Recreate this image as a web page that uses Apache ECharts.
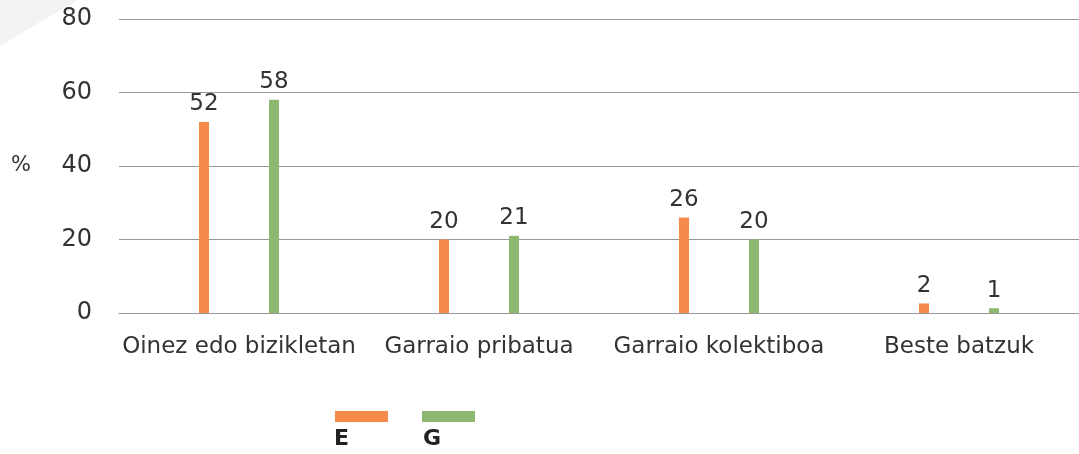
<!DOCTYPE html>
<html>
<head>
<meta charset="utf-8">
<script src="https://cdn.jsdelivr.net/npm/echarts@6/dist/echarts.min.js"></script>
<style>
  html, body { margin: 0; padding: 0; background: #fff; }
  #chart { width: 1079px; height: 454px; }
</style>
</head>
<body>
<div id="chart"></div>
<script>
// datos
var categories = ['Oinez edo bizikletan', 'Garraio pribatua', 'Garraio kolektiboa', 'Beste batzuk'];
var valuesE = [52, 20, 26, 2.6];
var valuesG = [58, 21, 20, 1.3];
var labelsE = [52, 20, 26, 2];
var labelsG = [58, 21, 20, 1];
var yTicks = [0, 20, 40, 60, 80];

var font = 'DejaVu Sans';
var chart = echarts.init(document.getElementById('chart'));

chart.setOption({
    animation: false,
    textStyle: { fontFamily: font },
    grid: { left: 119, right: -6, top: 19, bottom: 141 },
    legend: {
        left: 335,
        top: 411,
        padding: 0,
        itemWidth: 53,
        itemHeight: 11,
        itemGap: 34,
        icon: 'rect',
        formatter: function () { return ''; },
        data: ['E', 'G']
    },
    graphic: [
        { type: 'polygon', z: -1, shape: { points: [[0, 0], [78, 0], [40, 22], [0, 46]] }, style: { fill: '#f3f3f3' } },
        { type: 'text', left: 334, top: 428, style: { text: 'E', font: 'bold 22px ' + font, fill: '#222' } },
        { type: 'text', left: 423, top: 428, style: { text: 'G', font: 'bold 22px ' + font, fill: '#222' } }
    ],
    xAxis: {
        type: 'category',
        data: categories,
        axisLine: { lineStyle: { color: '#999' } },
        axisTick: { show: false },
        axisLabel: { color: '#333', fontSize: 23, margin: 23, interval: 0 }
    },
    yAxis: {
        type: 'value',
        min: 0,
        max: 80,
        interval: 20,
        name: '%',
        nameLocation: 'middle',
        nameRotate: 0,
        nameGap: 88,
        nameTextStyle: { color: '#333', fontSize: 21 },
        axisLine: { show: false },
        axisTick: { show: false },
        axisLabel: {
            color: '#333', fontSize: 24, margin: 27,
            formatter: function (v) { return yTicks.indexOf(v) >= 0 ? v : ''; }
        },
        splitLine: { lineStyle: { color: '#999' } }
    },
    series: [
        {
            name: 'E',
            type: 'bar',
            data: valuesE,
            barWidth: 10,
            barGap: '600%',
            itemStyle: { color: '#F58A4B' },
            label: {
                show: true, position: 'top', distance: 6, color: '#333', fontSize: 23,
                formatter: function (p) { return labelsE[p.dataIndex]; }
            }
        },
        {
            name: 'G',
            type: 'bar',
            data: valuesG,
            barWidth: 10,
            itemStyle: { color: '#8DB872' },
            label: {
                show: true, position: 'top', distance: 6, color: '#333', fontSize: 23,
                formatter: function (p) { return labelsG[p.dataIndex]; }
            }
        }
    ]
});
</script>
</body>
</html>
